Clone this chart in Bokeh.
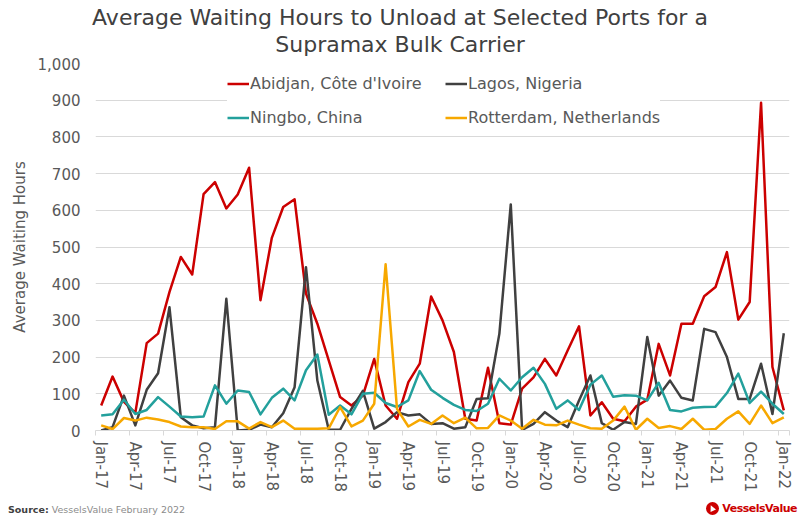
from bokeh.plotting import figure
from bokeh.layouts import column
from bokeh.models import Range1d, FixedTicker, NumeralTickFormatter, Legend, LegendItem, Div
from bokeh.embed import file_html
from bokeh.resources import INLINE

# ---------------- data ----------------
month_names = ["Jan", "Feb", "Mar", "Apr", "May", "Jun", "Jul", "Aug", "Sep", "Oct", "Nov", "Dec"]
years = ["17", "18", "19", "20", "21"]
months = [f"{m}-{y}" for y in years for m in month_names] + ["Jan-22"]

abidjan = [68, 147, 78, 48, 238, 264, 377, 473, 425, 644, 677, 605,
           643, 716, 355, 525, 609, 630, 373, 291, 191, 91, 68, 95,
           195, 68, 32, 132, 182, 365, 300, 214, 32, 27, 171, 20,
           16, 114, 145, 195, 150, 218, 284, 41, 77, 32, 25, 65,
           84, 236, 150, 291, 291, 366, 391, 486, 302, 350, 893, 173,
           55]
lagos = [0, 9, 95, 14, 111, 156, 336, 36, 14, 6, 9, 359,
         0, 2, 16, 9, 47, 118, 445, 136, 2, 2, 59, 108,
         5, 23, 50, 41, 44, 18, 20, 5, 9, 86, 88, 264,
         616, 2, 18, 50, 27, 9, 82, 150, 20, 2, 23, 18,
         255, 95, 136, 89, 82, 277, 268, 200, 86, 86, 182, 45,
         265]
ningbo = [41, 44, 84, 45, 56, 91, 65, 38, 36, 38, 123, 73,
          109, 105, 44, 89, 114, 82, 164, 207, 43, 68, 44, 100,
          103, 75, 64, 82, 162, 111, 89, 70, 56, 53, 73, 141,
          109, 145, 171, 127, 59, 82, 56, 125, 150, 92, 96, 95,
          82, 130, 56, 52, 62, 64, 65, 102, 155, 75, 106, 73,
          45]
rotterdam = [14, 4, 34, 27, 35, 30, 23, 11, 9, 9, 4, 25,
             25, 5, 23, 9, 27, 5, 5, 5, 6, 64, 11, 27,
             73, 453, 59, 11, 29, 18, 41, 20, 35, 6, 7, 41,
             27, 5, 29, 16, 14, 27, 16, 6, 5, 27, 65, 2,
             32, 7, 12, 4, 32, 2, 4, 32, 52, 18, 68, 20,
             36]

series_names = ["Abidjan, Côte d'Ivoire", "Lagos, Nigeria", "Ningbo, China", "Rotterdam, Netherlands"]
series_colors = ["#CC0000", "#404040", "#23A09C", "#F7A800"]

title_lines = ["Average Waiting Hours to Unload at Selected Ports for a", "Supramax Bulk Carrier"]
y_label = "Average Waiting Hours"
source_label = "Source:"
source_text = "VesselsValue February 2022"
logo_text = "VesselsValue"

x = list(range(len(months)))
label_positions = list(range(0, len(months), 3))
boundary_positions = [i - 0.5 for i in range(0, len(months) + 1, 3)] + [len(months) - 0.5]

FONT = "DejaVu Sans"
GRAY = "#595959"
GRID = "#D9D9D9"
W = 800
HEAD_H, MAIN_H, FOOT_H = 56, 445, 20

# ---------------- header ----------------
head = Div(width=W, height=HEAD_H, margin=(0, 0, 0, 0), text=(
    f"<div style=\"width:{W}px;height:{HEAD_H}px;text-align:center;font-family:'DejaVu Sans',sans-serif;"
    f"font-size:22px;line-height:27px;color:#404040;padding-top:4px;box-sizing:border-box;\">"
    f"{title_lines[0]}<br>{title_lines[1]}</div>"))

# ---------------- main chart ----------------
p = figure(width=W, height=MAIN_H, output_backend="svg", toolbar_location=None,
           x_range=Range1d(-0.5, len(months) - 0.5), y_range=Range1d(0, 1000),
           min_border_left=95, min_border_right=11, min_border_top=63 - HEAD_H,
           min_border_bottom=MAIN_H - (430 - HEAD_H))
p.outline_line_color = None
p.background_fill_color = "white"
p.border_fill_color = "white"

renderers = []
for vals, col in zip([abidjan, lagos, ningbo, rotterdam], series_colors):
    r = p.line(x, vals, line_color=col, line_width=2.5, line_join="round")
    renderers.append(r)

p.xgrid.grid_line_color = None
p.ygrid.grid_line_color = GRID
p.ygrid.grid_line_width = 1
p.yaxis.ticker = FixedTicker(ticks=list(range(0, 1001, 100)))

p.yaxis.formatter = NumeralTickFormatter(format="0,0")
p.yaxis.axis_line_color = None
p.yaxis.major_tick_line_color = None
p.yaxis.minor_tick_line_color = None
p.yaxis.major_tick_out = 0
p.yaxis.major_tick_in = 0
p.yaxis.major_label_standoff = 15
p.yaxis.major_label_text_font = FONT
p.yaxis.major_label_text_font_size = "15px"
p.yaxis.major_label_text_color = GRAY
p.yaxis.axis_label = y_label
p.yaxis.axis_label_text_font = FONT
p.yaxis.axis_label_text_font_size = "15px"
p.yaxis.axis_label_text_font_style = "normal"
p.yaxis.axis_label_text_color = GRAY
p.yaxis.axis_label_standoff = 6

p.xaxis.ticker = FixedTicker(ticks=label_positions, minor_ticks=boundary_positions)
p.xaxis.major_label_overrides = {i: months[i] for i in label_positions}
p.xaxis.major_label_orientation = "vertical"
p.xaxis.axis_line_color = GRID
p.xaxis.axis_line_width = 1
p.xaxis.major_tick_line_color = None
p.xaxis.major_tick_out = 0
p.xaxis.major_tick_in = 0
p.xaxis.minor_tick_line_color = GRID
p.xaxis.minor_tick_out = 5
p.xaxis.minor_tick_in = 0
p.xaxis.major_label_standoff = 6
p.xaxis.major_label_text_font = FONT
p.xaxis.major_label_text_font_size = "15px"
p.xaxis.major_label_text_color = GRAY

items = [LegendItem(label=series_names[i], renderers=[renderers[i]]) for i in [0, 2, 1, 3]]
legend = Legend(items=items, ncols=2, location=(132, 299),
                label_text_font=FONT, label_text_font_size="16px", label_text_color=GRAY,
                glyph_width=22, glyph_height=27, label_height=27, label_width=188,
                label_standoff=1, spacing=7, padding=7, margin=0,
                border_line_color=None, background_fill_color="white", background_fill_alpha=1.0)
p.add_layout(legend, "center")

# ---------------- footer ----------------
foot = Div(width=W, height=FOOT_H, margin=(0, 0, 0, 0), text=(
    f"<div style=\"position:relative;width:{W}px;height:{FOOT_H}px;font-family:'DejaVu Sans',sans-serif;\">"
    f"<span style=\"position:absolute;left:8px;top:3px;font-size:9.5px;line-height:12px;color:#8C8C8C;white-space:nowrap;\">"
    f"<b style=\"color:#404040;\">{source_label}</b> {source_text}</span>"
    f"<span style=\"position:absolute;left:706px;top:1px;width:13px;height:13px;border-radius:50%;background:#CC0000;\"></span>"
    f"<span style=\"position:absolute;left:709px;top:4px;width:0;height:0;border-left:3.5px solid transparent;"
    f"border-right:3.5px solid transparent;border-bottom:6px solid white;transform:rotate(-25deg);\"></span>"
    f"<span style=\"position:absolute;right:3px;top:1px;font-size:11px;line-height:13px;font-weight:bold;"
    f"color:#CC0000;letter-spacing:-0.5px;white-space:nowrap;\">{logo_text}</span>"
    f"</div>"))

layout = column(head, p, foot, spacing=0)
open("out.html", "w").write(file_html(layout, INLINE))
